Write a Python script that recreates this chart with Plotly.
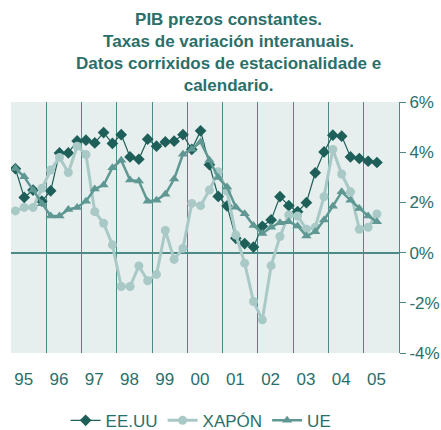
import plotly.graph_objects as go

# Quarterly data 1995Q1 .. 2005Q2
years = list(range(1995, 2006))
year_labels = ["95", "96", "97", "98", "99", "00", "01", "02", "03", "04", "05"]
n_quarters = 42

eeuu = [3.34, 2.2, 2.49, 2.05, 2.46, 3.97, 3.97, 4.45, 4.48, 4.37, 4.78, 4.35, 4.7, 3.81,
        3.72, 4.52, 4.24, 4.41, 4.44, 4.7, 4.11, 4.85, 3.5, 2.24, 1.86, 0.57, 0.36, 0.22,
        1.05, 1.3, 2.23, 1.87, 1.63, 1.99, 3.18, 4.01, 4.68, 4.64, 3.81, 3.75, 3.64, 3.59]
xapon = [1.66, 1.8, 1.8, 2.56, 3.29, 3.79, 3.19, 4.24, 3.91, 1.63, 1.17, 0.31, -1.35, -1.35,
         -0.53, -1.12, -0.87, 0.88, -0.27, 0.17, 1.96, 1.87, 2.49, 3.22, 2.45, 0.7, -0.42,
         -1.95, -2.68, -0.52, 0.64, 1.5, 1.46, 0.93, 1.01, 2.23, 4.11, 3.13, 2.42, 0.93,
         1.01, 1.54]
ue = [3.35, 3.02, 2.49, 1.95, 1.46, 1.46, 1.72, 1.8, 2.05, 2.53, 2.69, 3.38, 3.68, 2.89,
      2.85, 2.05, 2.09, 2.32, 2.93, 3.92, 4.12, 4.41, 3.68, 2.99, 2.61, 1.81, 1.55, 1.08,
      0.76, 1.01, 1.19, 1.23, 1.06, 0.66, 0.83, 1.3, 1.85, 2.42, 2.09, 1.76, 1.46, 1.23]
y_ticks = [-4, -2, 0, 2, 4, 6]
title_text = ("PIB prezos constantes.<br>Taxas de variación interanuais.<br>"
              "Datos corrixidos de estacionalidade e<br>calendario.")

x = [1995 + (i + 0.5) / 4 for i in range(n_quarters)]

C_US = "#1e5f5a"
C_JP = "#a9c9c7"
C_EU = "#5f9793"
C_TXT = "#2b6f6a"
C_GRID = "#4d8a85"
FONT = "Liberation Sans, Arial, sans-serif"

fig = go.Figure()
fig.add_trace(go.Scatter(x=x, y=eeuu, name="EE.UU", mode="lines+markers",
                         line=dict(color=C_US, width=1.2),
                         marker=dict(symbol="diamond", size=9, color=C_US)))
fig.add_trace(go.Scatter(x=x, y=xapon, name="XAPÓN", mode="lines+markers",
                         line=dict(color=C_JP, width=3),
                         marker=dict(symbol="circle", size=9, color=C_JP)))
fig.add_trace(go.Scatter(x=x, y=ue, name="UE", mode="lines+markers",
                         line=dict(color=C_EU, width=2.5),
                         marker=dict(symbol="triangle-up", size=9, color=C_EU)))

fig.add_annotation(text=title_text, xref="paper", yref="paper",
                   x=(228 - 11) / 388, y=1 + (102 - 8) / 251,
                   xanchor="center", yanchor="top", showarrow=False, align="center",
                   font=dict(size=17, color=C_TXT, family=FONT, weight="bold"))

fig.update_layout(
    width=441, height=430,
    margin=dict(l=11, r=42, t=102, b=77, autoexpand=False),
    paper_bgcolor="white",
    plot_bgcolor="#e6efee",
    font=dict(family=FONT, color=C_TXT, size=17),
    showlegend=True,
    legend=dict(orientation="h", x=0.49, xanchor="center", y=-0.27, yanchor="middle",
                font=dict(size=17, color=C_TXT), bgcolor="rgba(0,0,0,0)"),
    xaxis=dict(
        range=[1995, 2006],
        automargin=False,
        tickmode="array",
        tickvals=[yv + 0.36 for yv in years],
        ticktext=year_labels,
        ticks="",
        showgrid=False,
        zeroline=False,
        showline=False,
        tickfont=dict(size=17, color=C_TXT),
        ticklabelstandoff=14,
        minor=dict(tickmode="array", tickvals=years + [2006], showgrid=True,
                   gridcolor=C_GRID, gridwidth=1, ticks=""),
    ),
    yaxis=dict(
        range=[-4, 6],
        automargin=False,
        side="right",
        tickmode="array",
        tickvals=y_ticks,
        ticktext=[f"{v}%" for v in y_ticks],
        ticks="outside", ticklen=6, tickcolor=C_GRID, tickwidth=1,
        showline=True, linecolor=C_GRID, linewidth=1,
        showgrid=False,
        zeroline=True, zerolinecolor=C_GRID, zerolinewidth=1.5,
        tickfont=dict(size=17, color=C_TXT),
    ),
)

fig.write_html("out.html", config={"displayModeBar": False},
               post_script="document.body.style.margin='0';document.body.style.padding='0';")
